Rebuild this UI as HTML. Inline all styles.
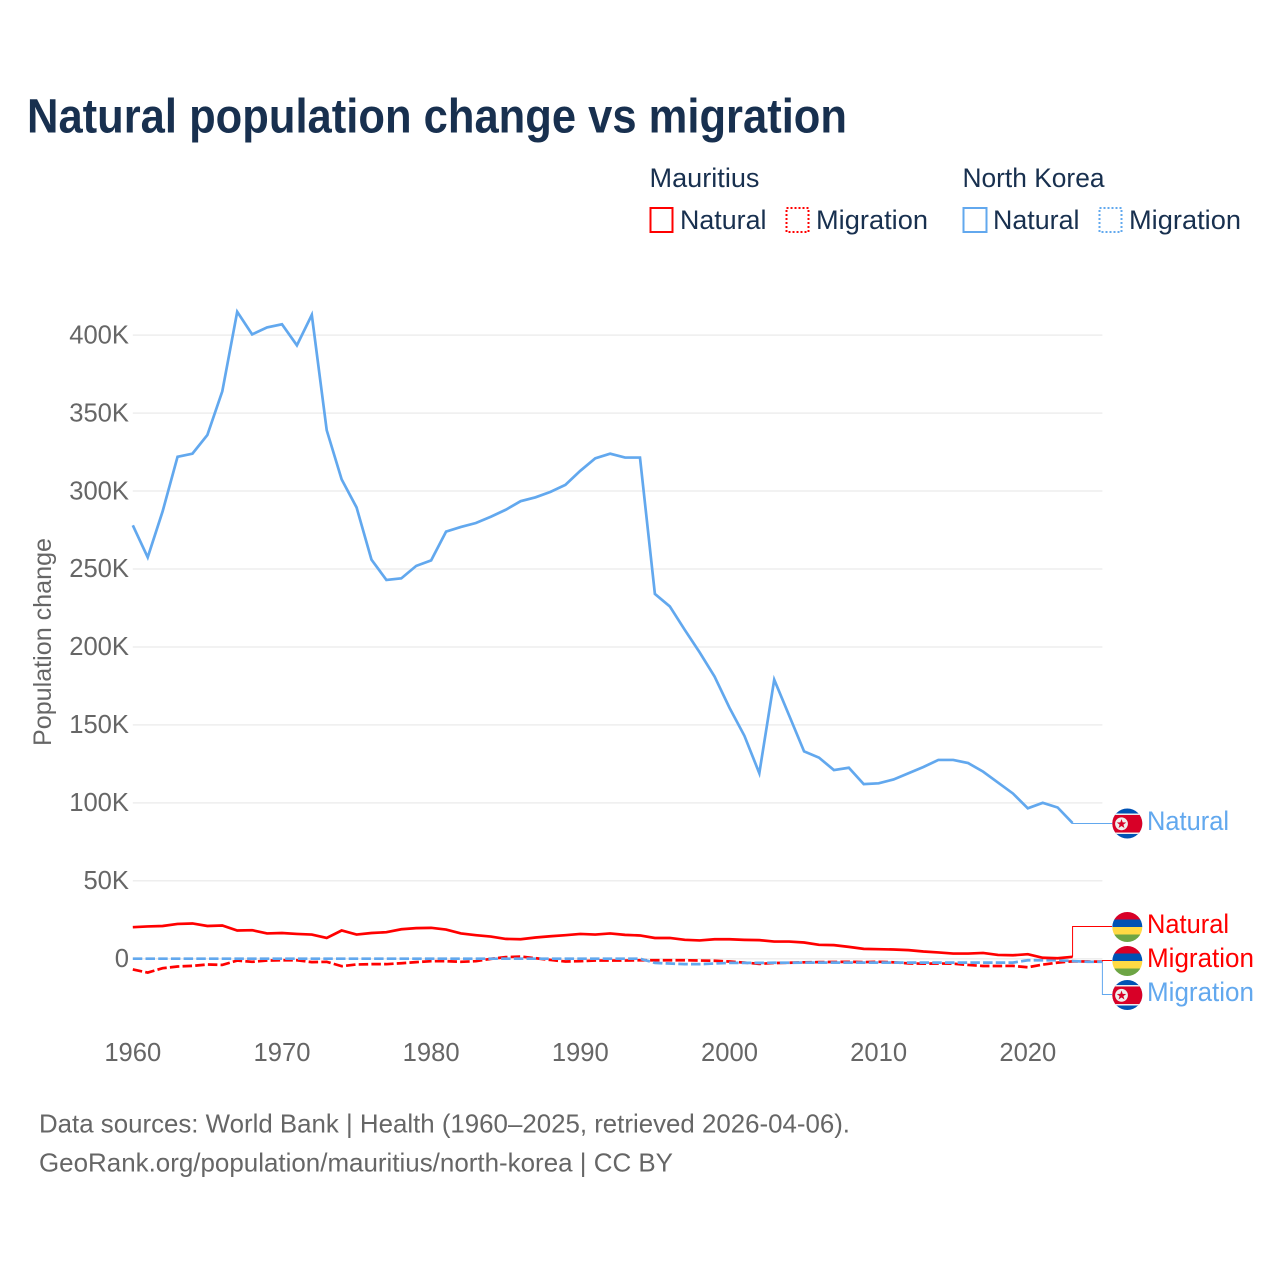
<!DOCTYPE html>
<html lang="en">
<head>
<meta charset="utf-8">
<title>Natural population change vs migration</title>
<style>
html,body{margin:0;padding:0;background:#fff;}
svg{display:block;font-family:"Liberation Sans",sans-serif;}
</style>
</head>
<body>
<svg id="chart" xmlns="http://www.w3.org/2000/svg" width="1280" height="1280" viewBox="0 0 1280 1280">
  <defs>
    <clipPath id="flag-clip-1"><circle cx="1127.3" cy="823.5" r="15"/></clipPath>
    <clipPath id="flag-clip-2"><circle cx="1127.3" cy="927" r="15"/></clipPath>
    <clipPath id="flag-clip-3"><circle cx="1127.3" cy="961" r="15"/></clipPath>
    <clipPath id="flag-clip-4"><circle cx="1127.3" cy="995" r="15"/></clipPath>
  </defs>
  <rect width="1280" height="1280" fill="#fff"/>

  <text x="27" y="132.5" font-size="48" font-weight="700" fill="#18304f" textLength="820" lengthAdjust="spacingAndGlyphs">Natural population change vs migration</text>

  <g font-size="26.5" fill="#18304f">
    <text x="649.5" y="187" textLength="110" lengthAdjust="spacingAndGlyphs">Mauritius</text>
    <text x="962.5" y="187" textLength="142" lengthAdjust="spacingAndGlyphs">North Korea</text>
    <rect x="650.5" y="208" width="22" height="24" fill="none" stroke="#ff0000" stroke-width="2"/>
    <text x="680" y="229" textLength="86.5" lengthAdjust="spacingAndGlyphs">Natural</text>
    <rect x="786.5" y="208" width="22" height="24" fill="none" stroke="#ff0000" stroke-width="2" stroke-dasharray="2 2"/>
    <text x="816" y="229" textLength="112" lengthAdjust="spacingAndGlyphs">Migration</text>
    <rect x="963.5" y="208" width="23" height="24" fill="none" stroke="#62a8ee" stroke-width="2"/>
    <text x="993" y="229" textLength="86.5" lengthAdjust="spacingAndGlyphs">Natural</text>
    <rect x="1099.5" y="208" width="22" height="24" fill="none" stroke="#62a8ee" stroke-width="2" stroke-dasharray="2 2"/>
    <text x="1129" y="229" textLength="112" lengthAdjust="spacingAndGlyphs">Migration</text>
  </g>

  <g id="grid"></g>
  <g id="y-ticks" font-size="25.6" fill="#666" text-anchor="end"></g>
  <g id="x-ticks" font-size="25.6" fill="#666" text-anchor="middle"></g>
  <text transform="translate(51,642) rotate(-90)" font-size="25" fill="#666" text-anchor="middle" textLength="208" lengthAdjust="spacingAndGlyphs">Population change</text>

  <g id="series"></g>
  <g id="connectors"></g>

  <g clip-path="url(#flag-clip-1)">
    <rect x="1112" y="808" width="31" height="31" fill="#0052b4"/>
    <rect x="1112" y="813.5" width="31" height="20.5" fill="#eeeeee"/>
    <rect x="1112" y="815" width="31" height="17.5" fill="#d80027"/>
    <circle cx="1121.5" cy="823.8" r="6.4" fill="#eeeeee"/>
    <polygon transform="translate(1121.5,824)" points="0,-5 1.18,-1.62 4.76,-1.55 1.9,0.62 2.94,4.05 0,2 -2.94,4.05 -1.9,0.62 -4.76,-1.55 -1.18,-1.62" fill="#d80027"/>
  </g>
  <g clip-path="url(#flag-clip-2)">
    <rect x="1112" y="912" width="31" height="8" fill="#d80027"/>
    <rect x="1112" y="919.5" width="31" height="7.5" fill="#0052b4"/>
    <rect x="1112" y="927" width="31" height="7.5" fill="#ffda44"/>
    <rect x="1112" y="934.5" width="31" height="8" fill="#6da544"/>
  </g>
  <g clip-path="url(#flag-clip-3)">
    <rect x="1112" y="946" width="31" height="8" fill="#d80027"/>
    <rect x="1112" y="953.5" width="31" height="7.5" fill="#0052b4"/>
    <rect x="1112" y="961" width="31" height="7.5" fill="#ffda44"/>
    <rect x="1112" y="968.5" width="31" height="8" fill="#6da544"/>
  </g>
  <g clip-path="url(#flag-clip-4)">
    <rect x="1112" y="980" width="31" height="31" fill="#0052b4"/>
    <rect x="1112" y="985" width="31" height="20.5" fill="#eeeeee"/>
    <rect x="1112" y="986.5" width="31" height="17.5" fill="#d80027"/>
    <circle cx="1121.5" cy="995.3" r="6.4" fill="#eeeeee"/>
    <polygon transform="translate(1121.5,995.5)" points="0,-5 1.18,-1.62 4.76,-1.55 1.9,0.62 2.94,4.05 0,2 -2.94,4.05 -1.9,0.62 -4.76,-1.55 -1.18,-1.62" fill="#d80027"/>
  </g>

  <g font-size="26.5">
    <text x="1147" y="830" fill="#62a8ee" textLength="82" lengthAdjust="spacingAndGlyphs">Natural</text>
    <text x="1147" y="933" fill="#ff0000" textLength="82" lengthAdjust="spacingAndGlyphs">Natural</text>
    <text x="1147" y="967" fill="#ff0000" textLength="107" lengthAdjust="spacingAndGlyphs">Migration</text>
    <text x="1147" y="1001" fill="#62a8ee" textLength="107" lengthAdjust="spacingAndGlyphs">Migration</text>
  </g>

  <g font-size="25.6" fill="#666">
    <text x="39" y="1132.5" textLength="811" lengthAdjust="spacingAndGlyphs">Data sources: World Bank | Health (1960–2025, retrieved 2026-04-06).</text>
    <text x="39" y="1171.5" textLength="634" lengthAdjust="spacingAndGlyphs">GeoRank.org/population/mauritius/north-korea | CC BY</text>
  </g>
</svg>

<script>
const startYear = 1960;
const xTickYears = [1960, 1970, 1980, 1990, 2000, 2010, 2020];
const yTickValues = [0, 50000, 100000, 150000, 200000, 250000, 300000, 350000, 400000];
const yTickLabels = ["0", "50K", "100K", "150K", "200K", "250K", "300K", "350K", "400K"];

const northKoreaNatural = [
  278000, 257500, 287000, 322000, 324000, 336000, 364000, 415000, 400500, 405000,
  407000, 393500, 413000, 339000, 307500, 289500, 256000, 243000, 244000, 252000,
  255500, 274000, 277000, 279500, 283500, 288000, 293500, 296000, 299500, 304000,
  313000, 321000, 324000, 321500, 321500, 234000, 226000, 211000, 196500, 181000,
  161000, 143000, 119000, 179000, 156000, 133000, 129000, 121000, 122500, 112000,
  112500, 115000, 119000, 123000, 127500, 127500, 125500, 120000, 113000, 106000,
  96500, 100000, 97000, 87000
];
const mauritiusNatural = [
  20200, 20700, 21000, 22300, 22600, 21000, 21300, 18100, 18300, 16200,
  16500, 15900, 15500, 13300, 18100, 15500, 16500, 17000, 18900, 19600,
  19800, 18700, 16200, 15100, 14200, 12700, 12500, 13600, 14400, 15100,
  15900, 15500, 16200, 15300, 14900, 13300, 13300, 12100, 11700, 12500,
  12500, 12100, 11900, 11000, 11000, 10400, 8900, 8700, 7600, 6300,
  6100, 5900, 5500, 4600, 4000, 3300, 3300, 3700, 2400, 2200,
  2900, 600, 300, 1200
];
const mauritiusMigration = [
  -6900, -8900, -6100, -5000, -4600, -3700, -4000, -1200, -2000, -1200,
  -1000, -1000, -2200, -2000, -4800, -3700, -3500, -3500, -2900, -2200,
  -1600, -1600, -2000, -1600, -100, 1000, 1400, 300, -800, -1800,
  -1600, -1200, -1200, -1200, -1000, -1000, -1000, -1000, -1200, -1300,
  -1800, -2500, -3300, -2800, -2600, -2300, -2200, -2100, -2000, -2200,
  -2000, -2300, -3000, -3200, -3100, -3200, -4000, -4700, -4700, -4600,
  -5500, -3800, -2500, -1700, -1800, -1900
];
const northKoreaMigration = [
  0, 0, 0, 0, 0, 0, 0, 0, 0, 0,
  0, 0, 0, 0, 0, 0, 0, 0, 0, 0,
  0, 0, 0, 0, 0, 0, 0, 0, 0, 0,
  0, 0, 0, 0, 0, -2700, -3100, -3500, -3500, -3100,
  -2700, -2700, -2700, -2600, -2600, -2500, -2500, -2500, -2500, -2500,
  -2500, -2500, -2500, -2500, -2500, -2500, -2500, -2500, -2500, -2500,
  -1000, -1000, -1000, -1500, -2000, -2000
];

const NS = 'http://www.w3.org/2000/svg';
const BLUE = '#62a8ee';
const RED = '#ff0000';

function xScale(year) {
  return 132.8 + (year - 1960) * 14.917;
}
function yScale(value) {
  return 958.7 - value * 0.0015588;
}
function make(tag, parent) {
  const el = document.createElementNS(NS, tag);
  parent.appendChild(el);
  return el;
}
function linePath(values) {
  return values.map(function (v, i) {
    return (i ? 'L' : 'M') + xScale(startYear + i).toFixed(2) + ' ' + yScale(v).toFixed(2);
  }).join(' ');
}

const gridGroup = document.getElementById('grid');
const yTickGroup = document.getElementById('y-ticks');
yTickValues.forEach(function (v, i) {
  const line = make('line', gridGroup);
  
  
  line.setAttribute('x1', xScale(1960));
  line.setAttribute('x2', xScale(2025));
  line.setAttribute('y1', yScale(v));
  line.setAttribute('y2', yScale(v));
  line.setAttribute('stroke', '#eeeeee');
  line.setAttribute('stroke-width', '1.5');
  const t = make('text', yTickGroup);
  
  
  t.setAttribute('x', 129);
  t.setAttribute('y', yScale(v) + 8.2);
  t.textContent = yTickLabels[i];
});

const xTickGroup = document.getElementById('x-ticks');
xTickYears.forEach(function (year) {
  const t = make('text', xTickGroup);
  
  
  t.setAttribute('x', xScale(year));
  t.setAttribute('y', 1061);
  t.textContent = String(year);
});

const seriesGroup = document.getElementById('series');

const lineMuMig = make('path', seriesGroup);


lineMuMig.setAttribute('d', linePath(mauritiusMigration));
lineMuMig.setAttribute('fill', 'none');
lineMuMig.setAttribute('stroke', RED);
lineMuMig.setAttribute('stroke-width', '2.7');
lineMuMig.setAttribute('stroke-dasharray', '9.5 3.2');

const lineKpMig = make('path', seriesGroup);


lineKpMig.setAttribute('d', linePath(northKoreaMigration));
lineKpMig.setAttribute('fill', 'none');
lineKpMig.setAttribute('stroke', BLUE);
lineKpMig.setAttribute('stroke-width', '2.7');
lineKpMig.setAttribute('stroke-dasharray', '9.5 3.2');

const lineMuNat = make('path', seriesGroup);


lineMuNat.setAttribute('d', linePath(mauritiusNatural));
lineMuNat.setAttribute('fill', 'none');
lineMuNat.setAttribute('stroke', RED);
lineMuNat.setAttribute('stroke-width', '2.7');

const lineKpNat = make('path', seriesGroup);


lineKpNat.setAttribute('d', linePath(northKoreaNatural));
lineKpNat.setAttribute('fill', 'none');
lineKpNat.setAttribute('stroke', BLUE);
lineKpNat.setAttribute('stroke-width', '2.7');

function connectorPath(values, labelY) {
  const lastX = xScale(startYear + values.length - 1);
  const lastY = yScale(values[values.length - 1]);
  return 'M' + lastX.toFixed(2) + ' ' + lastY.toFixed(2) +
    ' L' + lastX.toFixed(2) + ' ' + labelY +
    ' L1112 ' + labelY;
}
const connectorGroup = document.getElementById('connectors');

const connKpNat = make('path', connectorGroup);


connKpNat.setAttribute('d', connectorPath(northKoreaNatural, 823.5));
connKpNat.setAttribute('fill', 'none');
connKpNat.setAttribute('stroke', BLUE);
connKpNat.setAttribute('stroke-width', '1');

const connMuNat = make('path', connectorGroup);


connMuNat.setAttribute('d', connectorPath(mauritiusNatural, 926.5));
connMuNat.setAttribute('fill', 'none');
connMuNat.setAttribute('stroke', RED);
connMuNat.setAttribute('stroke-width', '1');

const connMuMig = make('path', connectorGroup);


connMuMig.setAttribute('d', connectorPath(mauritiusMigration, 960.5));
connMuMig.setAttribute('fill', 'none');
connMuMig.setAttribute('stroke', RED);
connMuMig.setAttribute('stroke-width', '1');

const connKpMig = make('path', connectorGroup);


connKpMig.setAttribute('d', connectorPath(northKoreaMigration, 994.5));
connKpMig.setAttribute('fill', 'none');
connKpMig.setAttribute('stroke', BLUE);
connKpMig.setAttribute('stroke-width', '1');
</script>
</body>
</html>
